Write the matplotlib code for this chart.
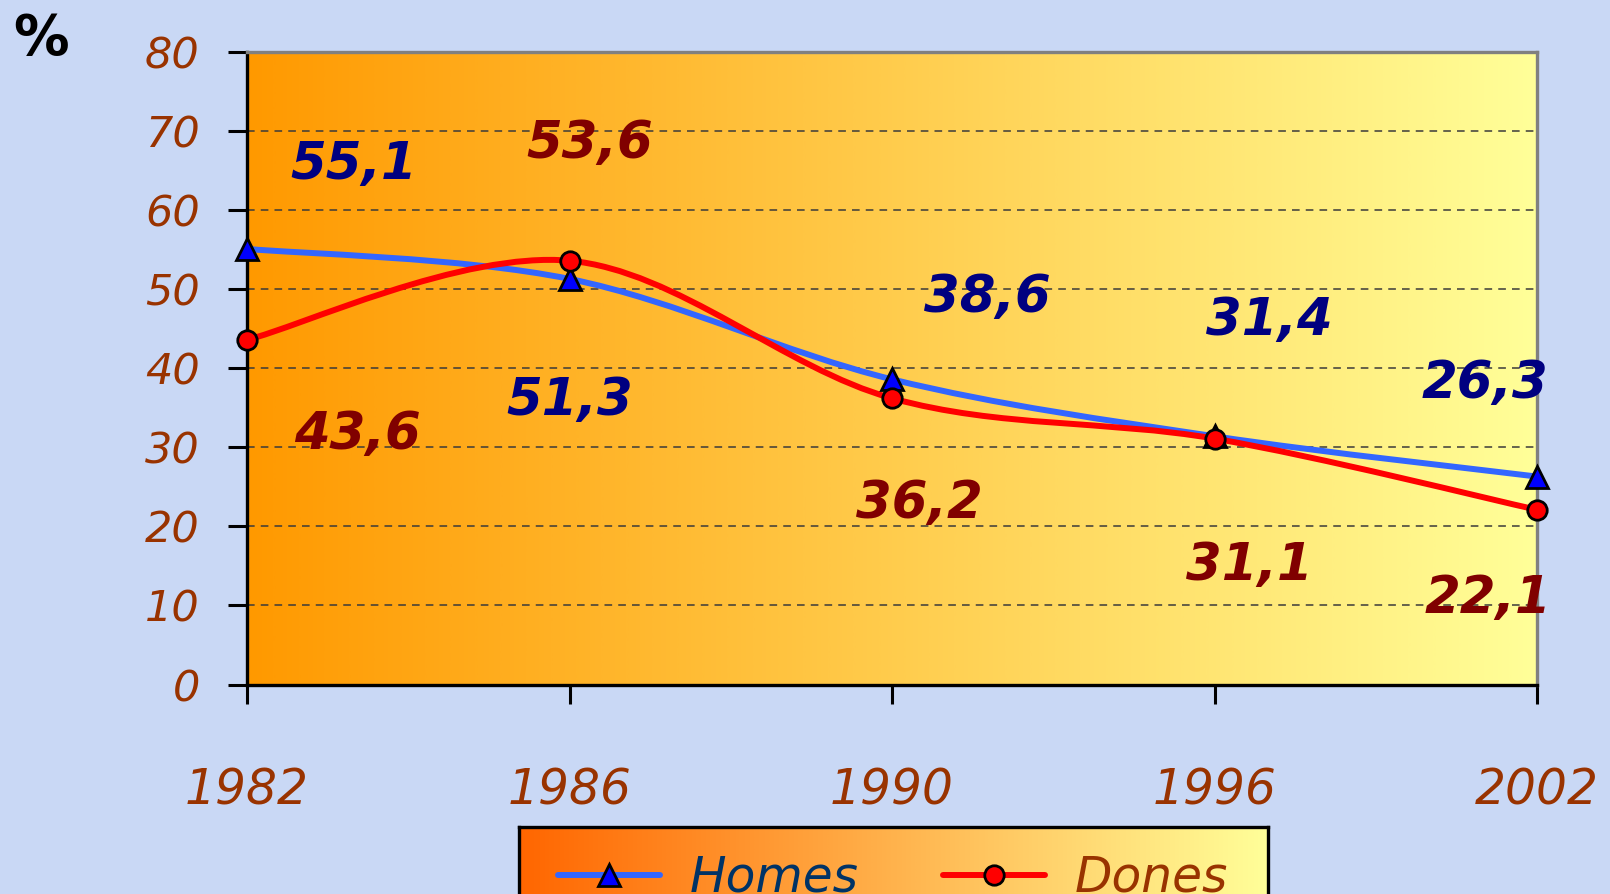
import numpy as np
import matplotlib
matplotlib.use('Agg')
import matplotlib.pyplot as plt
from matplotlib.colors import LinearSegmentedColormap
from matplotlib.path import Path
from matplotlib.patches import PathPatch
from matplotlib.lines import Line2D

years = ['1982', '1986', '1990', '1996', '2002']
homes = [55.1, 51.3, 38.6, 31.4, 26.3]
dones = [43.6, 53.6, 36.2, 31.1, 22.1]
homes_labels = ['55,1', '51,3', '38,6', '31,4', '26,3']
dones_labels = ['43,6', '53,6', '36,2', '31,1', '22,1']
y_ticks = [0, 10, 20, 30, 40, 50, 60, 70, 80]

# where the value labels sit, in pixels from each point (x right, y up)
homes_off = [(107, 84), (0, -122), (95, 81), (55, 115), (-52, 93)]
dones_off = [(110, -95), (20, 117), (27, -106), (35, -127), (-49, -89)]

BG = '#C9D8F5'
TICK_COL = '#993300'


def smooth_path(xs, ys):
  # excel style smoothed line: bezier segments through every point
  pts = np.column_stack([xs, ys]).astype(float)
  ext = np.vstack([pts[0], pts, pts[-1]])
  verts = [pts[0]]
  codes = [Path.MOVETO]
  for i in range(len(pts) - 1):
    p0, p1, p2, p3 = ext[i], ext[i + 1], ext[i + 2], ext[i + 3]
    c1 = p1 + (p2 - p0) / 6.0
    c2 = p2 - (p3 - p1) / 6.0
    verts += [c1, c2, p2]
    codes += [Path.CURVE4] * 3
  return Path(verts, codes)


def gradient(ax, c0, c1):
  cmap = LinearSegmentedColormap.from_list('g', [c0, c1])
  grad = np.linspace(0, 1, 512).reshape(1, -1)
  ax.imshow(grad, cmap=cmap, aspect='auto', extent=(0, 1, 0, 1),
            transform=ax.transAxes, zorder=0, interpolation='bilinear')


fig = plt.figure(figsize=(16.1, 8.94), dpi=100, facecolor=BG)
W, H = 1610, 894
ax = fig.add_axes([247 / W, 1 - 684.5 / H, (1537 - 247) / W, (684.5 - 52) / H])
gradient(ax, '#FF9900', '#FFFF99')

x = np.arange(len(years))
ax.set_xlim(0, len(years) - 1)
ax.set_ylim(0, 80)

for v in y_ticks[1:-1]:
  ax.axhline(v, color='#3a3a3a', lw=1.1, ls=(0, (5, 4)), zorder=1)

ax.add_patch(PathPatch(smooth_path(x, homes), fc='none', ec='#3366FF', lw=4.3,
                       capstyle='round', joinstyle='round', zorder=3))
ax.add_patch(PathPatch(smooth_path(x, dones), fc='none', ec='#FF0000', lw=4.3,
                       capstyle='round', joinstyle='round', zorder=3))
ax.plot(x, homes, ls='none', marker='^', ms=16, mfc='#0000FF', mec='black',
        mew=2, zorder=5, clip_on=False)
ax.plot(x, dones, ls='none', marker='o', ms=14, mfc='#FF0000', mec='black',
        mew=2, zorder=5, clip_on=False)

for i in range(len(years)):
  ax.annotate(homes_labels[i], (x[i], homes[i]), xytext=homes_off[i],
              textcoords='offset pixels', ha='center', va='center',
              fontsize=37, fontweight='bold', fontstyle='italic',
              color='#000080', zorder=6)
  ax.annotate(dones_labels[i], (x[i], dones[i]), xytext=dones_off[i],
              textcoords='offset pixels', ha='center', va='center',
              fontsize=37, fontweight='bold', fontstyle='italic',
              color='#800000', zorder=6)

ax.set_xticks(x)
ax.set_xticklabels(years, fontsize=35, fontstyle='italic', color=TICK_COL)
ax.set_yticks(y_ticks)
ax.set_yticklabels([str(v) for v in y_ticks], fontsize=31, fontstyle='italic',
                   color=TICK_COL)
ax.tick_params(axis='x', direction='out', length=14, width=2.2, pad=45)
ax.tick_params(axis='y', direction='out', length=14, width=2.2, pad=20)

for s in ['left', 'bottom']:
  ax.spines[s].set_color('black')
  ax.spines[s].set_linewidth(2.4)
for s in ['top', 'right']:
  ax.spines[s].set_color('#808080')
  ax.spines[s].set_linewidth(2.4)

fig.text(13 / W, 1 - 12 / H, '%', fontsize=40, fontweight='bold', color='black',
         ha='left', va='top')

# legend box, cut off at the bottom edge like the original
lax = fig.add_axes([519 / W, -0.03, (1268 - 519) / W, (894 - 827) / H + 0.03])
gradient(lax, '#FF6600', '#FFFF99')
lax.set_xticks([])
lax.set_yticks([])
for s in lax.spines.values():
  s.set_color('black')
  s.set_linewidth(2.4)

handles = [
  Line2D([], [], color='#3366FF', lw=4.3, marker='^', ms=16, mfc='#0000FF',
         mec='black', mew=2, solid_capstyle='round'),
  Line2D([], [], color='#FF0000', lw=4.3, marker='o', ms=14, mfc='#FF0000',
         mec='black', mew=2, solid_capstyle='round'),
]
leg = fig.legend(handles, ['Homes', 'Dones'], loc='center left',
                 bbox_to_anchor=(558 / W, 1 - 878 / H), ncol=2, frameon=False,
                 borderpad=0, borderaxespad=0, handlelength=2.1,
                 handletextpad=0.6, columnspacing=1.75,
                 prop={'size': 35, 'style': 'italic'})
for t, c in zip(leg.get_texts(), ['#003366', '#993300']):
  t.set_color(c)

fig.savefig('out.png', dpi=100, facecolor=BG)
